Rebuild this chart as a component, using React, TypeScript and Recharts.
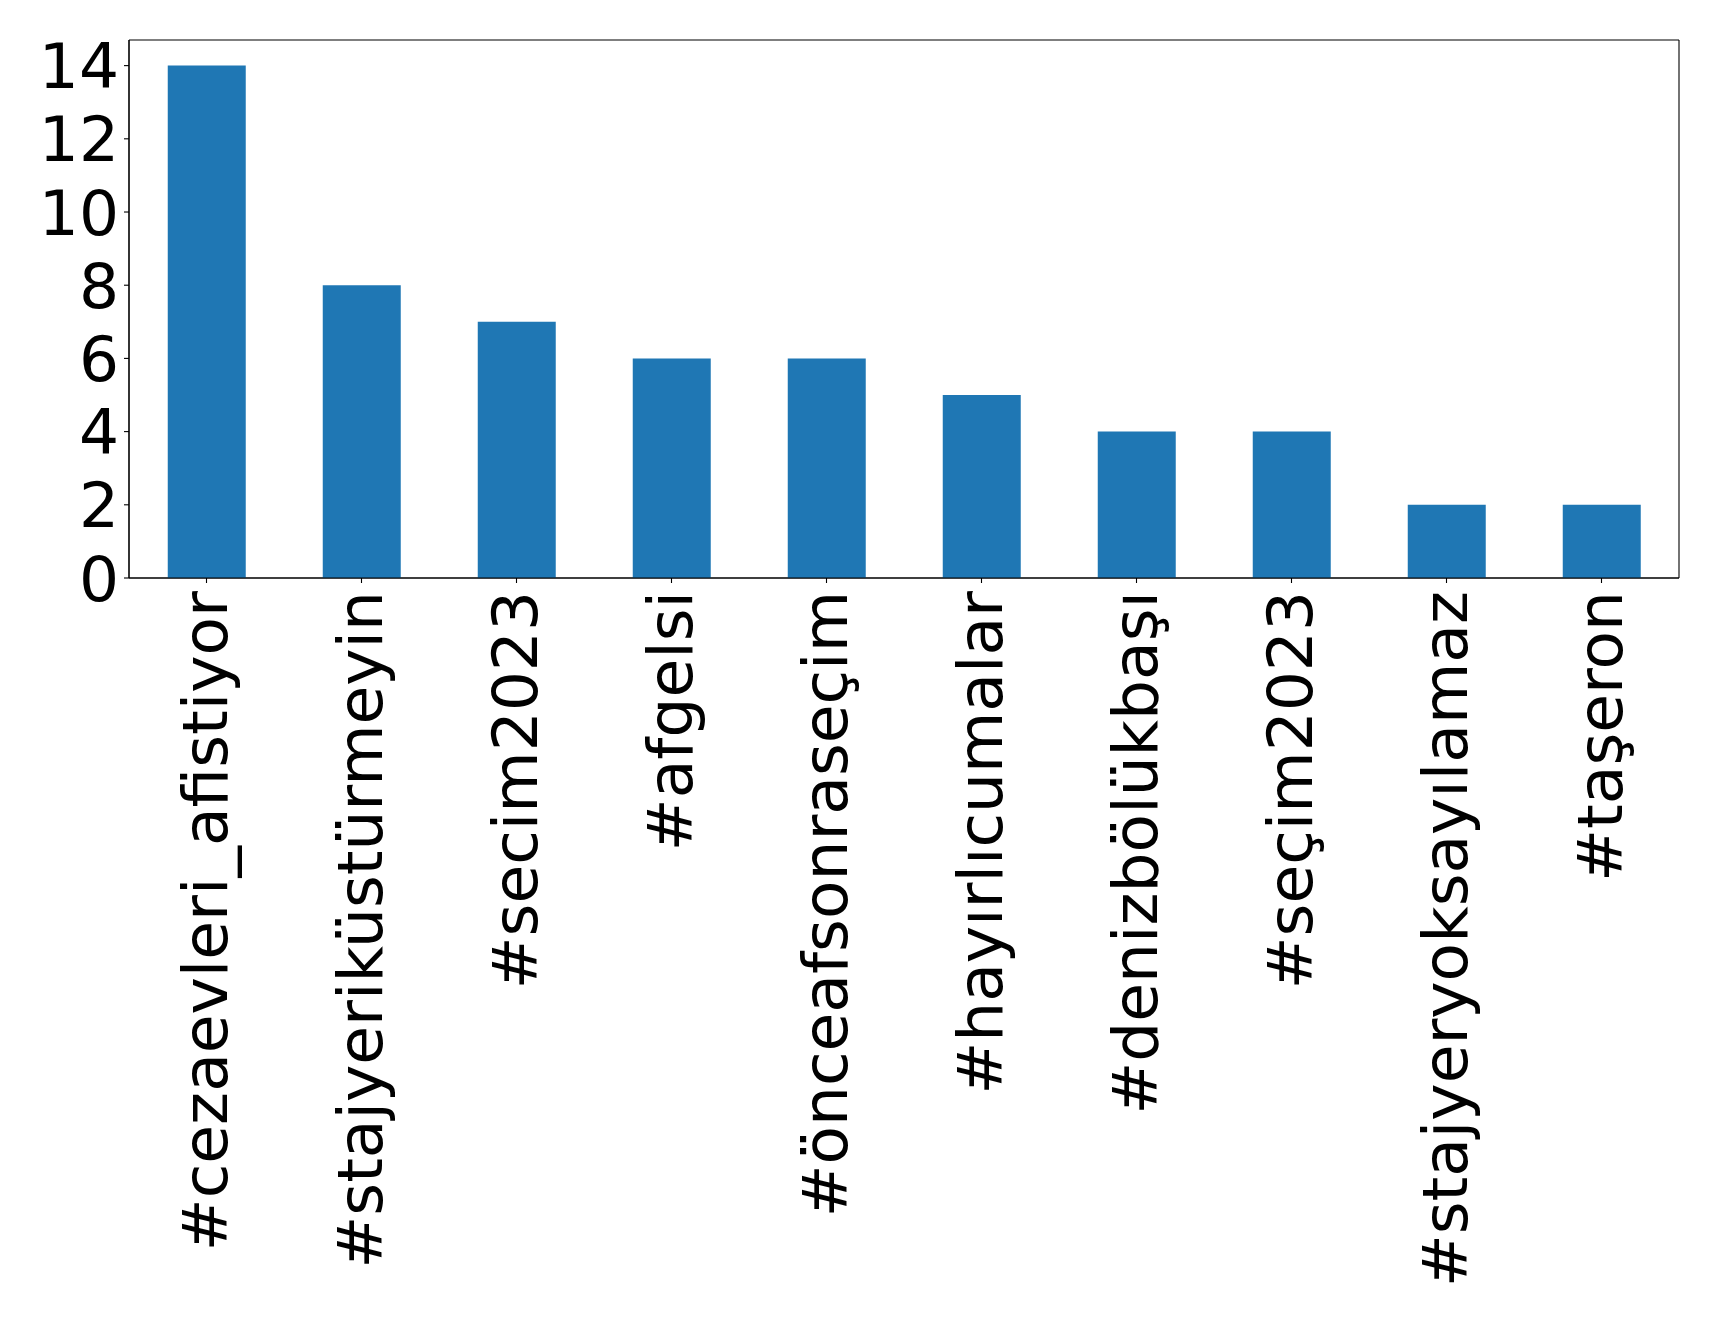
import React from "react";
import { BarChart, Bar, XAxis, YAxis, CartesianGrid } from "recharts";

const hashtags = [
  "#cezaevleri_afistiyor",
  "#stajyeriküstürmeyin",
  "#secim2023",
  "#afgelsi",
  "#önceafsonraseçim",
  "#hayırlıcumalar",
  "#denizbölükbaşı",
  "#seçim2023",
  "#stajyeryoksayılamaz",
  "#taşeron",
];
const counts = [14, 8, 7, 6, 6, 5, 4, 4, 2, 2];
const yTicks = [0, 2, 4, 6, 8, 10, 12, 14];

const data = hashtags.map((name, i) => ({ name, count: counts[i] }));

const FONT = "'DejaVu Sans', sans-serif";
const FS = 63;

const XTick = (props: any) => {
  const { x, y, payload } = props;
  return (
    <g transform={`translate(${x},${y})`}>
      <text
        transform="rotate(-90)"
        x={-3}
        y={20}
        textAnchor="end"
        fontFamily={FONT}
        fontSize={FS}
        fill="#000"
      >
        {payload.value}
      </text>
    </g>
  );
};

const YTick = (props: any) => {
  const { x, y, payload } = props;
  return (
    <text
      x={x}
      y={y}
      dy="0.36em"
      textAnchor="end"
      fontFamily={FONT}
      fontSize={FS}
      fill="#000"
    >
      {payload.value}
    </text>
  );
};

const hGen = (p: any) => {
  const o = p && p.offset;
  return o ? [o.top, o.top + o.height] : [];
};
const vGen = (p: any) => {
  const o = p && p.offset;
  return o ? [o.left, o.left + o.width] : [];
};

export default function App() {
  return (
    <div style={{ position: "absolute", left: 0, top: 0, background: "#fff" }}>
      <BarChart
        width={1719}
        height={1318}
        data={data}
        margin={{ top: 40, right: 40, left: 0, bottom: 0 }}
        barCategoryGap="25%"
      >
        <CartesianGrid
          stroke="#000"
          strokeWidth={1.1}
          horizontalCoordinatesGenerator={hGen}
          verticalCoordinatesGenerator={vGen}
          syncWithTicks={false}
        />
        <XAxis
          dataKey="name"
          height={740}
          interval={0}
          tick={<XTick />}
          tickSize={5}
          tickMargin={5}
          axisLine={{ stroke: "#000", strokeWidth: 1.1 }}
          tickLine={{ stroke: "#000", strokeWidth: 1.1 }}
        />
        <YAxis
          width={129}
          domain={[0, 14.7]}
          ticks={yTicks}
          interval={0}
          tick={<YTick />}
          tickSize={5}
          tickMargin={5}
          axisLine={{ stroke: "#000", strokeWidth: 1.1 }}
          tickLine={{ stroke: "#000", strokeWidth: 1.1 }}
        />
        <Bar dataKey="count" fill="#1f77b4" isAnimationActive={false} />
      </BarChart>
    </div>
  );
}
